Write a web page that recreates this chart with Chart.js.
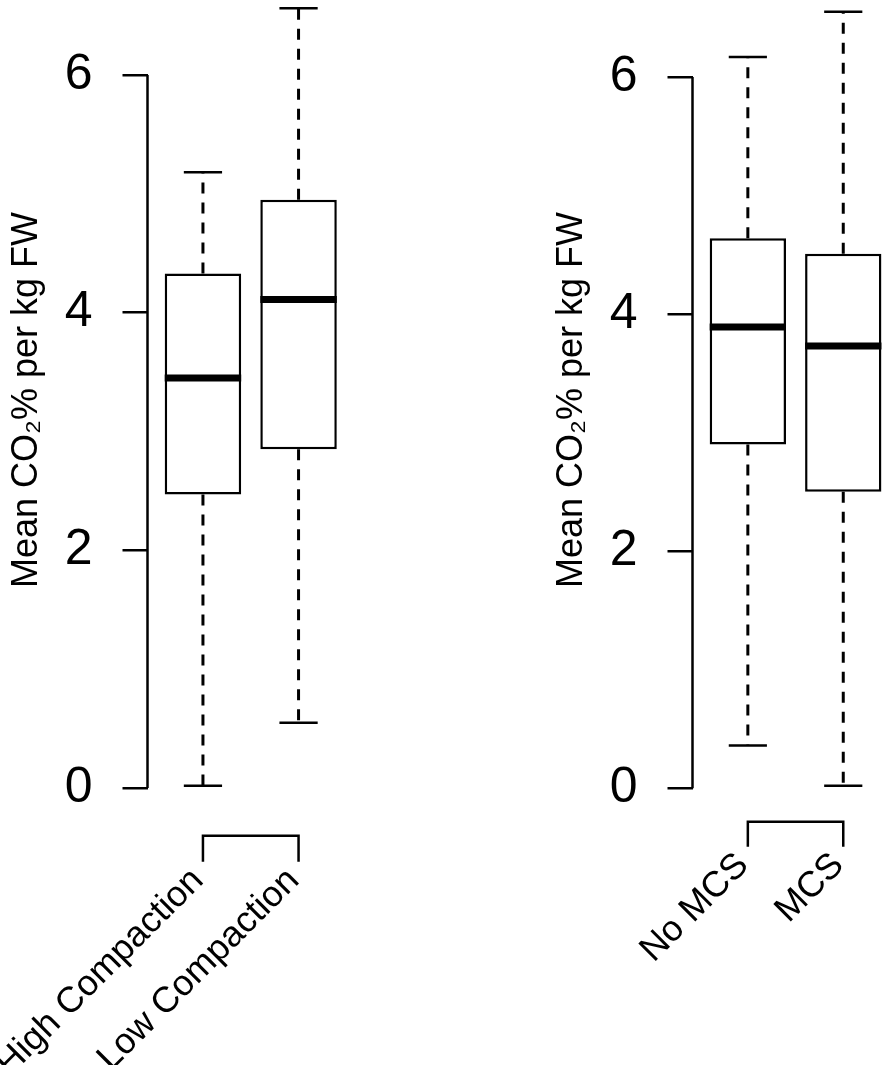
<!DOCTYPE html>
<html>
<head>
<meta charset="utf-8">
<script src="https://cdn.jsdelivr.net/npm/chart.js@4.4.0/dist/chart.umd.min.js"></script>
<style>
  html, body { margin: 0; padding: 0; background: #fff; overflow: hidden; }
  #wrap { position: relative; width: 886px; height: 1065px; }
  canvas { position: absolute; top: 0; }
</style>
</head>
<body>
<div id="wrap">
  <canvas id="left" width="354" height="1065" style="left:0px"></canvas>
  <canvas id="right" width="341" height="1065" style="left:545px"></canvas>
</div>
<script>
// values
var compactionLabels = ['High Compaction', 'Low Compaction'];
var compactionMin    = [0.02, 0.55];
var compactionQ1     = [2.47, 2.85];
var compactionMedian = [3.45, 4.11];
var compactionQ3     = [4.33, 4.95];
var compactionMax    = [5.18, 6.56];

var mcsLabels = ['No MCS', 'MCS'];
var mcsMin    = [0.36, 0.02];
var mcsQ1     = [2.90, 2.50];
var mcsMedian = [3.89, 3.73];
var mcsQ3     = [4.64, 4.51];
var mcsMax    = [6.17, 6.55];

var yTicks = [0, 2, 4, 6];
var yTitle = 'Mean CO\u2082% per kg FW';

var FONT = '"Liberation Sans", Arial, Helvetica, sans-serif';
Chart.defaults.font.family = FONT;
Chart.defaults.color = '#000';

// whiskers, caps, medians, the y axis line and the x "bracket" axis with labels
var boxExtras = {
    id: 'boxExtras',
    afterDatasetsDraw: function(chart, args, opts) {
        var ctx = chart.ctx;
        var xs = chart.scales.x, ys = chart.scales.y;
        var bars = chart.getDatasetMeta(0).data;
        ctx.save();
        ctx.strokeStyle = '#000';
        ctx.fillStyle = '#000';
        ctx.lineCap = 'butt';

        bars.forEach(function(bar, i) {
            var cx = bar.x, half = bar.width / 2;
            var yMin = ys.getPixelForValue(opts.mins[i]);
            var yQ1 = ys.getPixelForValue(opts.q1[i]);
            var yQ3 = ys.getPixelForValue(opts.q3[i]);
            var yMax = ys.getPixelForValue(opts.maxs[i]);
            var yMed = ys.getPixelForValue(opts.medians[i]);

            // dashed whiskers
            ctx.lineWidth = 3;
            ctx.setLineDash([11, 9]);
            ctx.beginPath();
            ctx.moveTo(cx, yQ3); ctx.lineTo(cx, yMax);
            ctx.moveTo(cx, yQ1); ctx.lineTo(cx, yMin);
            ctx.stroke();
            ctx.setLineDash([]);

            // caps
            ctx.lineWidth = 2.5;
            ctx.beginPath();
            ctx.moveTo(cx - half / 2, yMax); ctx.lineTo(cx + half / 2, yMax);
            ctx.moveTo(cx - half / 2, yMin); ctx.lineTo(cx + half / 2, yMin);
            ctx.stroke();

            // median
            ctx.lineWidth = 7;
            ctx.beginPath();
            ctx.moveTo(cx - half, yMed); ctx.lineTo(cx + half, yMed);
            ctx.stroke();
        });

        // y axis line only between first and last tick
        var ax = chart.chartArea.left;
        ctx.lineWidth = 2.5;
        ctx.beginPath();
        ctx.moveTo(ax, ys.getPixelForValue(yTicks[0]));
        ctx.lineTo(ax, ys.getPixelForValue(yTicks[yTicks.length - 1]));
        ctx.stroke();

        // x axis: line from first to last box with ticks pointing down
        var yAxis = ys.getPixelForValue(0) + opts.axisDrop;
        var x1 = xs.getPixelForValue(1), x2 = xs.getPixelForValue(opts.labels.length);
        ctx.beginPath();
        ctx.moveTo(x1, yAxis + opts.tickLen);
        ctx.lineTo(x1, yAxis);
        ctx.lineTo(x2, yAxis);
        ctx.lineTo(x2, yAxis + opts.tickLen);
        ctx.stroke();

        // rotated category labels
        ctx.font = '36px ' + FONT;
        ctx.textAlign = 'right';
        ctx.textBaseline = 'middle';
        opts.labels.forEach(function(lab, i) {
            var px = xs.getPixelForValue(i + 1);
            ctx.save();
            ctx.translate(px + opts.labelDx, yAxis + opts.tickLen + opts.labelDy);
            ctx.rotate(-Math.PI / 4);
            ctx.fillText(lab, 0, 0);
            ctx.restore();
        });
        ctx.restore();
    }
};

function makePanel(id, labels, mins, q1, medians, q3, maxs, yMax, xMax, axisDrop, tickLen, labelDx, labelDy) {
    var boxes = labels.map(function(l, i) {
        return { x: i + 1, y: [q1[i], q3[i]] };
    });
    return new Chart(document.getElementById(id), {
        type: 'bar',
        data: {
            datasets: [{
                data: boxes,
                backgroundColor: '#fff',
                borderColor: '#000',
                borderWidth: 2.5,
                borderSkipped: false,
                barPercentage: 0.8,
                categoryPercentage: 1.0
            }]
        },
        plugins: [boxExtras],
        options: {
            responsive: false,
            animation: false,
            devicePixelRatio: 1,
            layout: { padding: { left: 0, right: 0, top: 0, bottom: 265 } },
            plugins: {
                legend: { display: false },
                tooltip: { enabled: false },
                boxExtras: {
                    labels: labels, mins: mins, q1: q1, q3: q3, maxs: maxs, medians: medians,
                    axisDrop: axisDrop, tickLen: tickLen, labelDx: labelDx, labelDy: labelDy
                }
            },
            scales: {
                x: {
                    type: 'linear',
                    min: 0.42,
                    max: xMax,
                    offset: false,
                    display: false,
                    afterBuildTicks: function(s) {
                        s.ticks = labels.map(function(l, i) { return { value: i + 1 }; });
                    }
                },
                y: {
                    min: -0.1,
                    max: yMax,
                    afterBuildTicks: function(s) {
                        s.ticks = yTicks.map(function(v) { return { value: v }; });
                    },
                    afterFit: function(s) {
                        s.width = 147.5;
                        s.paddingTop = 0;
                        s.paddingBottom = 0;
                    },
                    border: { display: false },
                    grid: {
                        drawOnChartArea: false,
                        drawTicks: true,
                        tickLength: 25,
                        color: '#000',
                        lineWidth: 2.5
                    },
                    ticks: {
                        font: { size: 50 },
                        color: '#000',
                        padding: 30
                    },
                    title: {
                        display: true,
                        text: yTitle,
                        color: '#000',
                        font: { size: 36 },
                        padding: { top: 5, bottom: 0 }
                    }
                }
            }
        }
    });
}

makePanel('left', compactionLabels, compactionMin, compactionQ1, compactionMedian,
          compactionQ3, compactionMax, 6.63, 2.58, 47.7, 26, -5, 13);
makePanel('right', mcsLabels, mcsMin, mcsQ1, mcsMedian,
          mcsQ3, mcsMax, 6.65, 2.448, 33.7, 25, -5, 13);
</script>
</body>
</html>
